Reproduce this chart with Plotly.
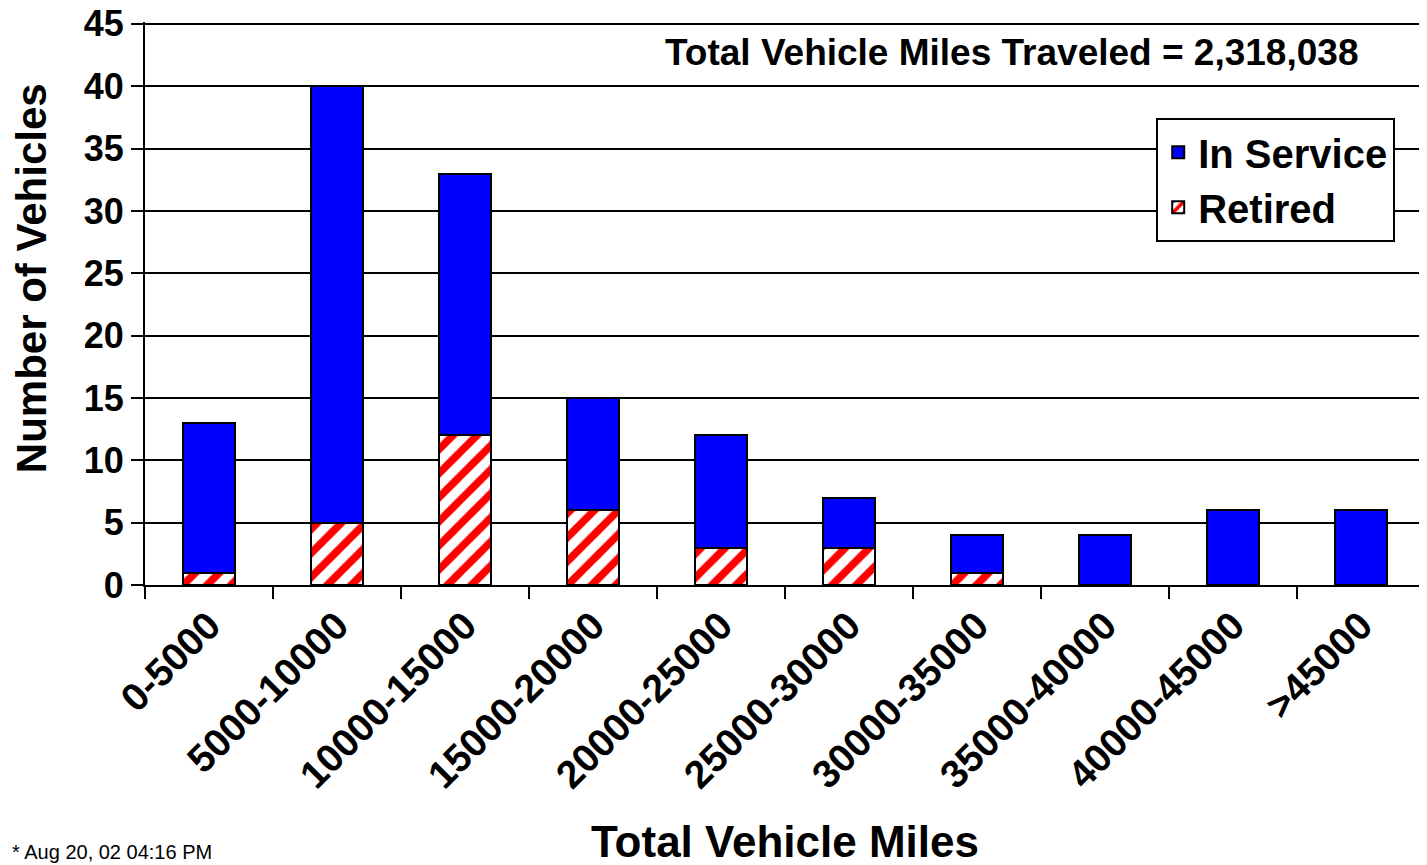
import plotly.graph_objects as go

categories = ["0-5000", "5000-10000", "10000-15000", "15000-20000", "20000-25000",
              "25000-30000", "30000-35000", "35000-40000", "40000-45000", ">45000"]
retired = [1, 5, 12, 6, 3, 3, 1, 0, 0, 0]
in_service = [12, 35, 21, 9, 9, 4, 3, 4, 6, 6]
y_ticks = [0, 5, 10, 15, 20, 25, 30, 35, 40, 45]

FONT = "Liberation Sans, Arial, sans-serif"

fig = go.Figure()

fig.add_trace(go.Bar(
    x=categories, y=retired, name="Retired",
    marker=dict(color="white", line=dict(color="black", width=2),
                pattern=dict(shape="/", fgcolor="#ff0000", bgcolor="white",
                             size=17, solidity=0.45, fgopacity=1)),
))
fig.add_trace(go.Bar(
    x=categories, y=in_service, name="In Service",
    marker=dict(color="#0000ff", line=dict(color="black", width=2)),
))

# the page body has an 8px margin, so the figure is sized to end at the window edge
fig.update_layout(
    barmode="stack",
    bargap=0.59,
    width=1419, height=857,
    margin=dict(l=137, r=2, t=14, b=280, autoexpand=False),
    paper_bgcolor="white", plot_bgcolor="white",
    font=dict(family=FONT, color="black"),
    legend=dict(
        x=0.79, y=0.83, xanchor="left", yanchor="top",
        bgcolor="white", bordercolor="black", borderwidth=2,
        font=dict(size=40, family=FONT, weight="bold"),
        traceorder="reversed",
        itemwidth=30,
    ),
    showlegend=True,
)

fig.update_xaxes(
    type="category", automargin=False,
    showline=True, linecolor="black", linewidth=2,
    ticks="outside", tickson="boundaries", ticklen=12, tickwidth=2, tickcolor="black",
    tickangle=-45,
    tickfont=dict(size=39, family=FONT, weight="bold"),
    showgrid=False,
)

fig.update_yaxes(
    range=[0, 45.15], automargin=False,
    tickvals=y_ticks,
    showline=True, linecolor="black", linewidth=2,
    ticks="outside", ticklen=12, tickwidth=2, tickcolor="black",
    tickfont=dict(size=36, family=FONT, weight="bold"),
    ticklabeloverflow="allow",
    showgrid=True, gridcolor="black", gridwidth=1.5,
    zeroline=False,
)

fig.add_annotation(
    text="<b>Total Vehicle Miles Traveled = 2,318,038</b>",
    xref="paper", yref="paper", x=0.677, y=0.946,
    xanchor="center", yanchor="middle", showarrow=False,
    font=dict(size=37, family=FONT),
)
fig.add_annotation(
    text="<b>Number of Vehicles</b>",
    xref="paper", yref="paper", x=0, y=0.545, xshift=-114,
    xanchor="center", yanchor="middle", textangle=-90, showarrow=False,
    font=dict(size=42, family=FONT),
)
fig.add_annotation(
    text="<b>Total Vehicle Miles</b>",
    xref="paper", yref="paper", x=0.5, y=0, yshift=-256,
    xanchor="center", yanchor="middle", showarrow=False,
    font=dict(size=44, family=FONT),
)
fig.add_annotation(
    text="* Aug 20, 02 04:16 PM",
    xref="paper", yref="paper", x=0, y=0, xshift=-135, yshift=-280,
    xanchor="left", yanchor="bottom", showarrow=False,
    font=dict(size=20, family=FONT),
)

fig.write_html("out.html")
